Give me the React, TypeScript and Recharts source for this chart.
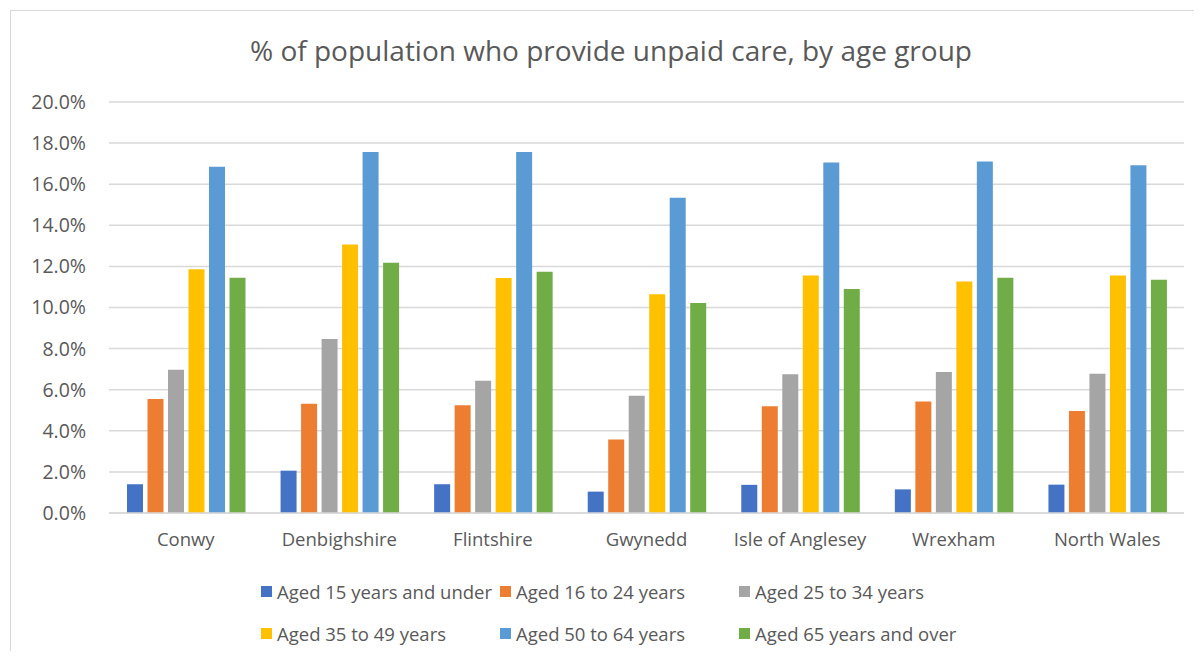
import React from "react";
import { BarChart, Bar, XAxis, YAxis, CartesianGrid } from "recharts";

const regions = ["Conwy", "Denbighshire", "Flintshire", "Gwynedd", "Isle of Anglesey", "Wrexham", "North Wales"];
const aged15Under = [1.4, 2.06, 1.4, 1.04, 1.37, 1.15, 1.38];
const aged16to24 = [5.55, 5.32, 5.24, 3.58, 5.19, 5.43, 4.96];
const aged25to34 = [6.97, 8.47, 6.44, 5.71, 6.75, 6.86, 6.78];
const aged35to49 = [11.86, 13.06, 11.44, 10.64, 11.56, 11.26, 11.56];
const aged50to64 = [16.85, 17.57, 17.57, 15.34, 17.06, 17.1, 16.92];
const aged65Over = [11.45, 12.18, 11.74, 10.22, 10.9, 11.45, 11.35];
const yTicks = [0, 2, 4, 6, 8, 10, 12, 14, 16, 18, 20];

const seriesNames = [
  "Aged 15 years and under",
  "Aged 16 to 24 years",
  "Aged 25 to 34 years",
  "Aged 35 to 49 years",
  "Aged 50 to 64 years",
  "Aged 65 years and over",
];
const seriesValues = [aged15Under, aged16to24, aged25to34, aged35to49, aged50to64, aged65Over];
const seriesColors = ["#4472C4", "#ED7D31", "#A5A5A5", "#FFC000", "#5B9BD5", "#70AD47"];
const seriesKeys = ["s0", "s1", "s2", "s3", "s4", "s5"];

const data = regions.map((r, i) => {
  const row: Record<string, string | number> = { region: r };
  seriesKeys.forEach((k, j) => {
    row[k] = seriesValues[j][i];
  });
  return row;
});

const FONT = "'Open Sans', sans-serif";
const TEXT = "#595959";

const legendCols = [261, 500, 739];
const legendRows = [591, 633];

export default function App() {
  return (
    <div
      style={{
        position: "relative",
        width: 1202,
        height: 659,
        margin: -8,
        overflow: "hidden",
        background: "#fff",
        fontFamily: FONT,
      }}
    >
      <div
        style={{
          position: "absolute",
          left: 10,
          top: 10,
          width: 1400,
          height: 900,
          borderLeft: "1.5px solid #D9D9D9",
          borderTop: "1.5px solid #D9D9D9",
        }}
      />
      <div
        style={{
          position: "absolute",
          left: 0,
          width: 1222,
          top: 30,
          textAlign: "center",
          fontSize: 28,
          color: TEXT,
          lineHeight: "40px",
        }}
      >
        % of population who provide unpaid care, by age group
      </div>
      <div style={{ position: "absolute", left: 0, top: 0 }}>
        <BarChart
          width={1202}
          height={659}
          data={data}
          margin={{ top: 102, right: 18, left: 0, bottom: 106 }}
          barSize={16}
          barGap={4.5}
        >
          <CartesianGrid vertical={false} stroke="#D9D9D9" strokeWidth={1.5} />
          <XAxis
            dataKey="region"
            height={40}
            axisLine={{ stroke: "#D9D9D9", strokeWidth: 1.5 }}
            tickLine={false}
            tickSize={0}
            tickMargin={20}
            tick={{ fill: TEXT, fontSize: 18.5, fontFamily: FONT }}
            interval={0}
          />
          <YAxis
            width={109}
            domain={[0, 20]}
            ticks={yTicks}
            axisLine={false}
            tickLine={false}
            tickSize={0}
            tickMargin={23}
            tickFormatter={(v: number) => v.toFixed(1) + "%"}
            tick={{ fill: TEXT, fontSize: 19.5, fontFamily: FONT }}
          />
          {seriesKeys.map((k, j) => (
            <Bar key={k} dataKey={k} name={seriesNames[j]} fill={seriesColors[j]} isAnimationActive={false} />
          ))}
        </BarChart>
      </div>
      {seriesNames.map((name, j) => {
        const col = j % 3;
        const row = Math.floor(j / 3);
        return (
          <div
            key={name}
            style={{
              position: "absolute",
              left: legendCols[col],
              top: legendRows[row] - 14,
              height: 28,
              display: "flex",
              alignItems: "center",
              whiteSpace: "nowrap",
              fontSize: 18.5,
              color: TEXT,
            }}
          >
            <span
              style={{
                display: "inline-block",
                width: 11,
                height: 11,
                background: seriesColors[j],
                marginRight: 5,
              }}
            />
            {name}
          </div>
        );
      })}
    </div>
  );
}
